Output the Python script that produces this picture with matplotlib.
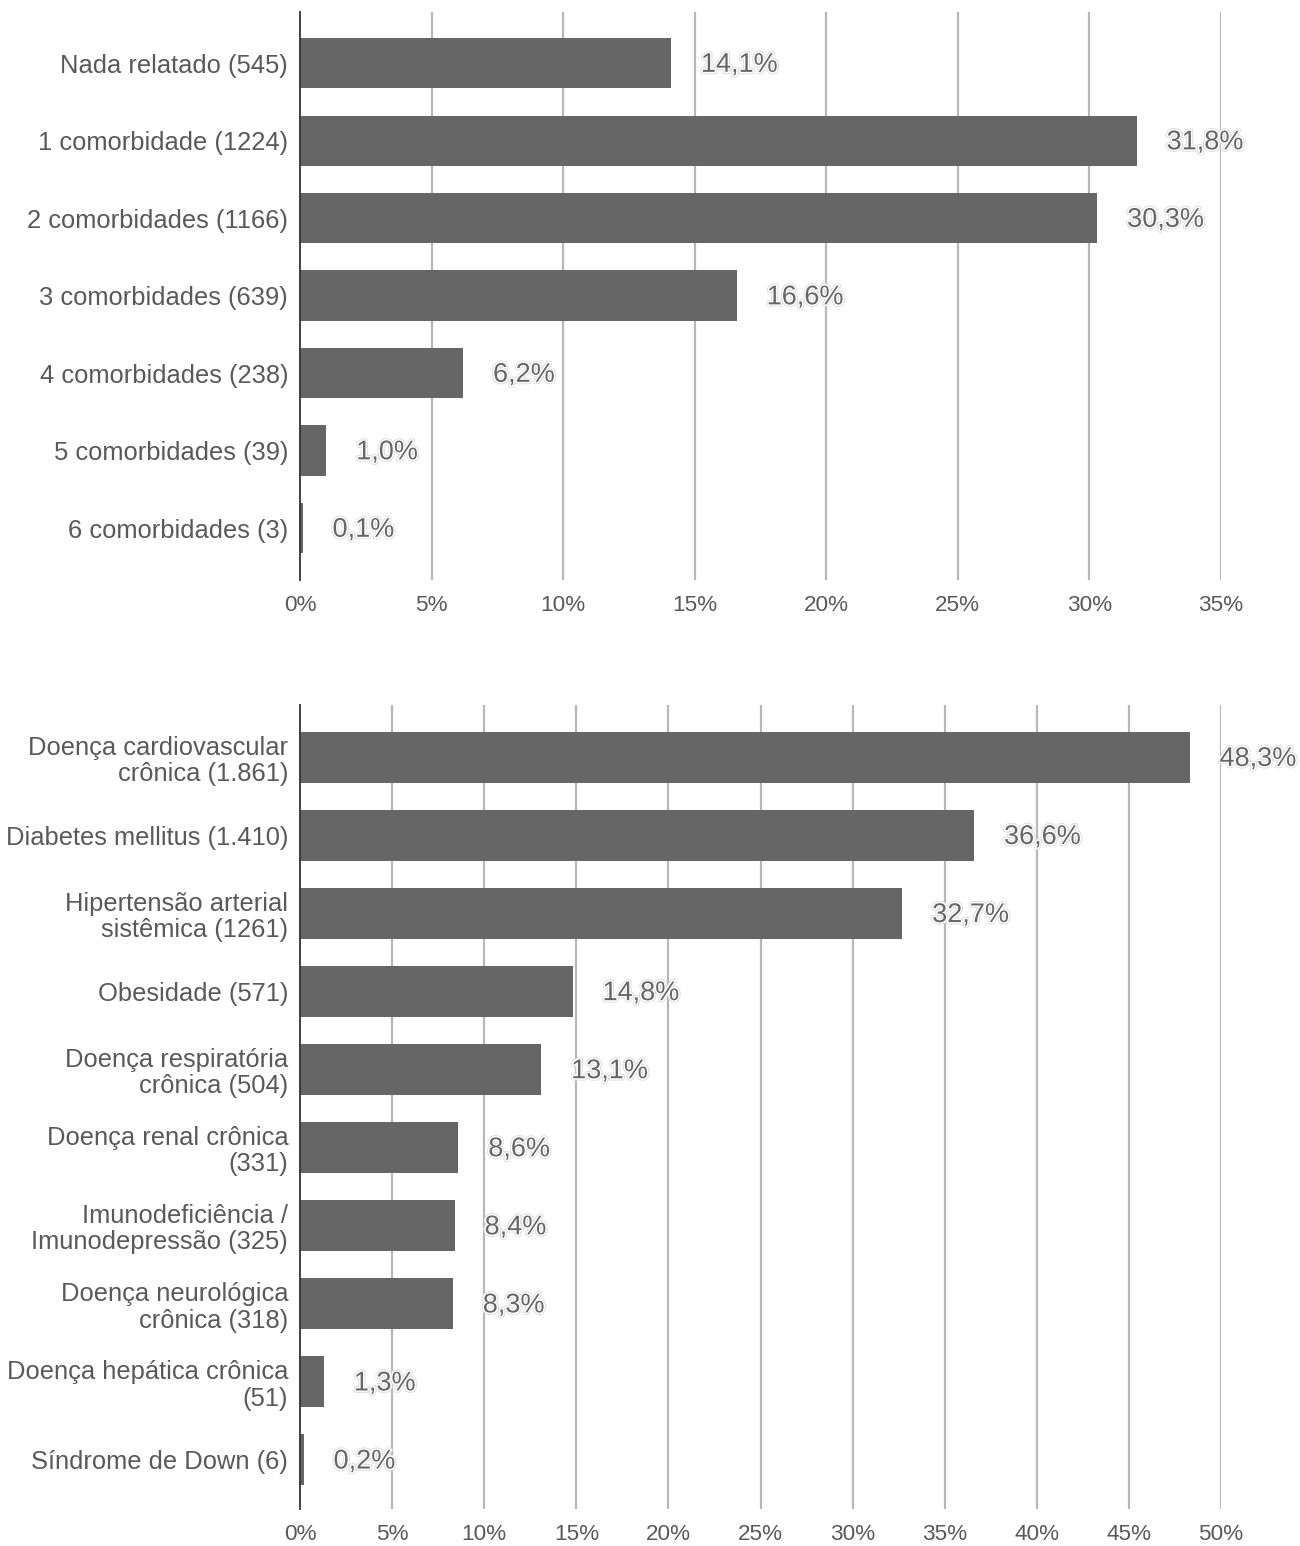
# Two horizontal bar charts: number of comorbidities and type of comorbidity

import matplotlib.pyplot as plt
import matplotlib.patheffects as pe
from matplotlib.ticker import FuncFormatter

plt.rcParams['font.family'] = ['Liberation Sans', 'DejaVu Sans']

count_labels = ['Nada relatado (545)', '1 comorbidade (1224)', '2 comorbidades (1166)',
                '3 comorbidades (639)', '4 comorbidades (238)', '5 comorbidades (39)',
                '6 comorbidades (3)']
count_values = [14.1, 31.8, 30.3, 16.6, 6.2, 1.0, 0.1]

type_labels = ['Doença cardiovascular\ncrônica (1.861)', 'Diabetes mellitus (1.410)',
               'Hipertensão arterial\nsistêmica (1261)', 'Obesidade (571)',
               'Doença respiratória\ncrônica (504)', 'Doença renal crônica\n(331)',
               'Imunodeficiência /\nImunodepressão (325)', 'Doença neurológica\ncrônica (318)',
               'Doença hepática crônica\n(51)', 'Síndrome de Down (6)']
type_values = [48.3, 36.6, 32.7, 14.8, 13.1, 8.6, 8.4, 8.3, 1.3, 0.2]

bar_color = '#666666'
grid_color = '#b7b7b7'
text_color = '#595959'

fig = plt.figure(figsize=(13, 15.46), dpi=100)
ax1 = fig.add_axes([0.2308, 0.6248, 0.7084, 0.3674])
ax2 = fig.add_axes([0.2308, 0.0239, 0.7084, 0.5201])

label_fx = [pe.Stroke(linewidth=3.4, foreground='#dcdcdc'),
            pe.Stroke(linewidth=2.1, foreground='white'),
            pe.Normal()]


def draw(ax, labels, values, xmax, ylim):
    pos = list(range(len(values)))
    ax.barh(pos, values, height=0.65, color=bar_color, zorder=2)
    for t in range(5, xmax + 1, 5):
        ax.axvline(t, color=grid_color, linewidth=1.6, zorder=1)
    for p, v in zip(pos, values):
        ax.annotate(f'{v:.1f}%'.replace('.', ','), (v, p), xytext=(21.5, -1.2),
                    textcoords='offset points', va='center', ha='left',
                    fontsize=19.5, color='#666666', path_effects=label_fx, zorder=4)
    ax.set_xlim(0, xmax)
    ax.set_ylim(*ylim)
    ax.set_xticks(range(0, xmax + 1, 5))
    ax.xaxis.set_major_formatter(FuncFormatter(lambda x, _: f'{x:.0f}%'))
    ax.set_yticks(pos)
    ax.set_yticklabels(labels, linespacing=1.12)
    ax.tick_params(axis='y', length=0, pad=8.5, labelsize=18.4, labelcolor=text_color)
    ax.tick_params(axis='x', length=0, pad=11, labelsize=16.2, labelcolor=text_color)
    for s in ['top', 'right', 'bottom']:
        ax.spines[s].set_visible(False)
    ax.spines['left'].set_color('#333333')
    ax.spines['left'].set_linewidth(1.3)
    ax.spines['left'].set_zorder(3)


draw(ax1, count_labels, count_values, 35, (6.67, -0.66))
draw(ax2, type_labels, type_values, 50, (9.63, -0.67))

fig.savefig('out.png', dpi=100)
